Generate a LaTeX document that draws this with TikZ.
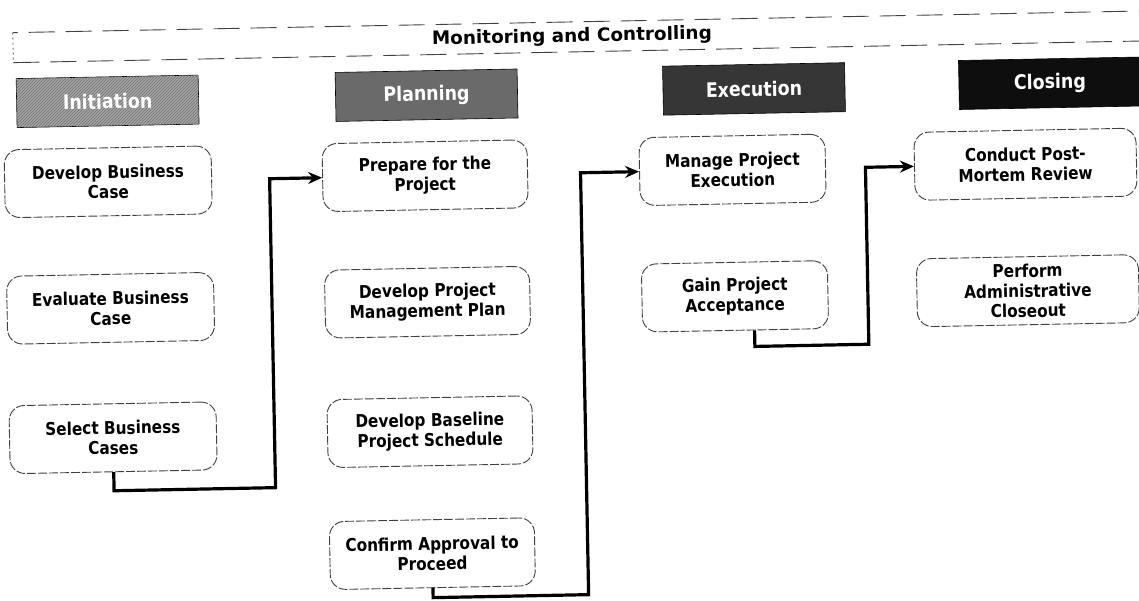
\documentclass[tikz,border=0pt]{standalone}
\usepackage{fontspec}
\setmainfont{DejaVu Sans}
\newfontfamily\narrowsans[FakeStretch=0.87]{DejaVu Sans}
\usetikzlibrary{arrows.meta,patterns}

\definecolor{initfill}{HTML}{A4A4A4}
\definecolor{planfill}{HTML}{6A6A6A}
\definecolor{execfill}{HTML}{363636}
\definecolor{closefill}{HTML}{0E0E0E}
\definecolor{boxline}{HTML}{404040}

\begin{document}
\begin{tikzpicture}[x=1pt,y=-1pt,
  band/.style={draw=black!75, line width=0.9pt, dash pattern=on 26pt off 11pt},
  phase/.style={draw=black, line width=0.6pt, minimum width=182pt, minimum height=49pt,
    inner sep=0pt, text=white, font=\narrowsans\bfseries\fontsize{20}{23}\selectfont},
  task/.style={draw=boxline, line width=0.9pt, dash pattern=on 9pt off 2pt,
    rounded corners=15pt, fill=white, minimum height=68pt, inner sep=0pt, align=center,
    font=\narrowsans\bfseries\fontsize{17.6}{20}\selectfont},
  conn/.style={draw=black, line width=3.2pt, -{Stealth[length=14pt,width=12pt]}},
  title/.style={font=\bfseries\fontsize{18.4}{21}\selectfont}
]
\useasboundingbox (0,0) rectangle (1139,600);

\begin{scope}[rotate around={1.1:(569.5,300)}, transform shape]

  % monitoring and controlling band
  \draw[band] (1170,22) -- (18,22);
  \draw[band] (18,52) -- (1170,52);
  \draw[draw=black!70, line width=0.8pt, dash pattern=on 2pt off 3pt] (18,22) -- (18,52);
  \node[title] (mc) at (577,37) {Monitoring and Controlling};

  % phase headers
  \node[phase, fill=initfill,
    postaction={pattern=north east lines, pattern color=black!55}] (hinit) at (111.5,92.5) {Initiation};
  \node[phase, fill=planfill]  (hplan)  at (430.5,92.5) {Planning};
  \node[phase, fill=execfill]  (hexec)  at (758,92.5)   {Execution};
  \node[phase, fill=closefill] (hclose) at (1054,92.5)  {Closing};

  % initiation tasks
  \node[task, minimum width=207pt] (dbc) at (110.5,173)   {Develop Business\\Case};
  \node[task, minimum width=207pt] (ebc) at (110.5,299.5) {Evaluate Business\\Case};
  \node[task, minimum width=207pt] (sbc) at (110.5,429)   {Select Business\\Cases};

  % planning tasks
  \node[task, minimum width=205pt] (pfp) at (427.5,173)   {Prepare for the\\Project};
  \node[task, minimum width=205pt] (pmp) at (427.5,299.5) {Develop Project\\Management Plan};
  \node[task, minimum width=205pt] (bps) at (427.5,429)   {Develop Baseline\\Project Schedule};
  \node[task, minimum width=205pt] (cap) at (427.5,551)   {Confirm Approval to\\Proceed};

  % execution tasks
  \node[task, minimum width=186pt] (mpe) at (735,173)   {Manage Project\\Execution};
  \node[task, minimum width=186pt] (gpa) at (735,299.5) {Gain Project\\Acceptance};

  % closing tasks
  \node[task, minimum width=222pt] (cpm) at (1028,173)   {Conduct Post-\\Mortem Review};
  \node[task, minimum width=222pt] (pac) at (1028,299.5) {Perform\\Administrative\\Closeout};

  % hand-offs between phases
  \coordinate (k1) at (272,482);
  \coordinate (k2) at (583,595);
  \coordinate (k3) at (868,350);
  \draw[conn] (sbc.south) |- (k1) |- (pfp.west);
  \draw[conn] (cap.south) |- (k2) |- (mpe.west);
  \draw[conn] ([xshift=19pt]gpa.south) |- (k3) |- (cpm.west);
\end{scope}
\end{tikzpicture}
\end{document}
